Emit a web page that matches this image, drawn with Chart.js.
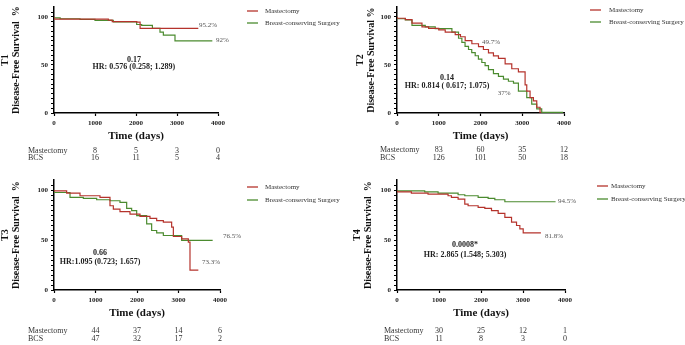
<!DOCTYPE html>
<html>
<head>
<meta charset="utf-8">
<script src="https://cdn.jsdelivr.net/npm/chart.js@4.4.1/dist/chart.umd.min.js"></script>
<style>
  body { margin: 0; background: #fff; }
  #wrap { position: relative; width: 685px; height: 345px; overflow: hidden; }
  canvas { position: absolute; }
</style>
</head>
<body>
<div id="wrap">
  <canvas id="c1" width="345" height="172" style="left:0;top:0"></canvas>
  <canvas id="c2" width="340" height="172" style="left:345px;top:0"></canvas>
  <canvas id="c3" width="345" height="172" style="left:0;top:173px"></canvas>
  <canvas id="c4" width="340" height="172" style="left:345px;top:173px"></canvas>
</div>
<script>
// Kaplan-Meier curves (days, survival %)

// T1
var t1MastDays = [0, 1325, 1420, 2016, 2100, 2830, 3520];
var t1MastSurv = [100, 97.5, 96.5, 95, 94.5, 88, 88];
var t1BcsDays = [0, 150, 634, 1000, 1447, 2016, 2138, 2400, 2585, 2667, 2951, 3195, 3862];
var t1BcsSurv = [100, 99, 98, 97.3, 96.3, 94.7, 92, 91, 88, 84, 81, 75, 75];

// T2
var t2MastDays = [0, 200, 359, 598, 757, 1000, 1155, 1394, 1520, 1633, 1793, 1952, 2070, 2191, 2310, 2430, 2590, 2749, 2908, 3068, 3108, 3187, 3267, 3347, 3426, 3466];
var t2MastSurv = [100, 98.5, 97, 93.5, 89.5, 88, 86.5, 84, 81.5, 79.3, 75.3, 72, 69, 66, 62.5, 59.3, 56.7, 51, 46, 42.7, 29.3, 22.7, 16, 12.7, 6, 0];
var t2BcsDays = [0, 200, 359, 677, 916, 1315, 1474, 1554, 1630, 1713, 1790, 1873, 1950, 2032, 2110, 2191, 2310, 2430, 2550, 2669, 2790, 2908, 3108, 3227, 3347, 3466, 3530, 3980];
var t2BcsSurv = [100, 98, 96.7, 91, 89.5, 87.7, 84, 77.7, 73.5, 69.3, 66, 62.7, 59.5, 56, 52.5, 49.3, 45, 41, 38, 35.3, 33, 31, 22.7, 16, 9.3, 4.3, 0.7, 0.7];

// T3
var t3MastDays = [0, 305, 627, 1108, 1349, 1430, 1590, 1831, 2072, 2313, 2474, 2635, 2835, 2876, 3076, 3237, 3277, 3317, 3478];
var t3MastSurv = [100, 99.3, 97, 94.4, 92.7, 84.4, 81, 78.5, 76, 73.8, 71.8, 69.5, 67.9, 63, 53.6, 51.3, 48, 20, 20];
var t3BcsDays = [0, 386, 707, 1028, 1349, 1590, 1751, 1871, 1992, 2233, 2353, 2474, 2635, 3076, 3277, 3823];
var t3BcsSurv = [100, 97.7, 92.7, 91.7, 90.4, 89.4, 87.7, 81.8, 79.5, 74.5, 66.2, 59.6, 57.3, 54.6, 49.7, 49.7];

// T4
var t4MastDays = [0, 342, 739, 1216, 1296, 1455, 1614, 1693, 1932, 2091, 2250, 2409, 2568, 2727, 2846, 2925, 3005, 3045, 3426];
var t4MastSurv = [100, 98.3, 97, 96, 94.4, 92.7, 91, 86, 84.4, 82.8, 81.8, 79.5, 76.8, 72.8, 67.9, 64.6, 61.3, 57.3, 57.3];
var t4BcsDays = [0, 660, 978, 1455, 1614, 1932, 2170, 2329, 2568, 2607, 3776];
var t4BcsSurv = [100, 99.3, 98.3, 97, 95.4, 94.4, 92.7, 91.7, 90.4, 88.4, 88.4];

// numbers at risk
var riskDays = [1000, 2000, 3000, 4000];
var t1RiskMast = [8, 5, 3, 0];
var t1RiskBcs = [16, 11, 5, 4];
var t2RiskMast = [83, 60, 35, 12];
var t2RiskBcs = [126, 101, 50, 18];
var t3RiskMast = [44, 37, 14, 6];
var t3RiskBcs = [47, 32, 17, 2];
var t4RiskMast = [30, 25, 12, 1];
var t4RiskBcs = [11, 8, 3, 0];

var xTicks = [0, 1000, 2000, 3000, 4000];
var yTickLabels = [0, 50, 100];
var seriesNames = ["Mastectomy", "Breast-conserving Surgery"];
var riskNames = ["Mastectomy", "BCS"];

var RED = "#b5332c";
var GREEN = "#4b8b2f";
var SERIF = "'Liberation Serif', 'Times New Roman', serif";

function pts(days, surv) {
  var out = [];
  for (let i = 0; i < days.length; i++) out.push({ x: days[i], y: surv[i] });
  return out;
}

// panel layout (canvas-relative chart area and extras)
var panels = [
  {
    id: "c1", w: 345, h: 172, area: { l: 54, t: 2, r: 218, b: 113 },
    title: ["T1", "Disease-Free Survival  %"], titlePad: 0,
    mast: pts(t1MastDays, t1MastSurv), bcs: pts(t1BcsDays, t1BcsSurv),
    riskM: t1RiskMast, riskB: t1RiskBcs, riskX: 28, riskY: [151, 158],
    legX: 247, legText: 18, legY: [11, 23],
    p: "0.17", hr: "HR: 0.576 (0.258; 1.289)", pAt: [1950, 55.5], hrAt: [1950, 47.5],
    labels: [["95.2%", 3536, 91.2], ["92%", 3951, 75.3]]
  },
  {
    id: "c2", w: 340, h: 172, area: { l: 52, t: 3, r: 219, b: 113 },
    title: ["T2", "Disease-Free Survival %"], titlePad: 9.5,
    mast: pts(t2MastDays, t2MastSurv), bcs: pts(t2BcsDays, t2BcsSurv),
    riskM: t2RiskMast, riskB: t2RiskBcs, riskX: 35, riskY: [150, 158],
    legX: 245, legText: 19, legY: [10, 22],
    p: "0.14", hr: "HR: 0.814 ( 0.617; 1.075)", pAt: [1200, 36], hrAt: [1200, 28],
    labels: [["49.7%", 2033, 73.7], ["37%", 2416, 20.6]]
  },
  {
    id: "c3", w: 345, h: 172, area: { l: 54, t: 6, r: 220, b: 117 },
    title: ["T3", "Disease-Free Survival  %"], titlePad: 0,
    mast: pts(t3MastDays, t3MastSurv), bcs: pts(t3BcsDays, t3BcsSurv),
    riskM: t3RiskMast, riskB: t3RiskBcs, riskX: 28, riskY: [158, 166],
    legX: 247, legText: 18, legY: [14, 27],
    p: "0.66", hr: "HR:1.095 (0.723; 1.657)", pAt: [1110, 36.7], hrAt: [1110, 27.8],
    labels: [["76.5%", 4072, 53.6], ["73.3%", 3566, 27.8]]
  },
  {
    id: "c4", w: 340, h: 172, area: { l: 52, t: 6, r: 220, b: 117 },
    title: ["T4", "Disease-Free Survival  %"], titlePad: 6.5,
    mast: pts(t4MastDays, t4MastSurv), bcs: pts(t4BcsDays, t4BcsSurv),
    riskM: t4RiskMast, riskB: t4RiskBcs, riskX: 39, riskY: [158, 166],
    legX: 252, legText: 14, legY: [13, 26],
    p: "0.0008*", hr: "HR: 2.865 (1.548; 5.303)", pAt: [1620, 44.7], hrAt: [1620, 34.8],
    labels: [["94.5%", 3833, 89.4], ["81.8%", 3524, 53.6]]
  }
];

function makePlugin(pn) {
  return {
    id: "extras",
    afterDraw: function (chart) {
      var ctx = chart.ctx;
      var xs = chart.scales.x;
      var ys = chart.scales.y;
      ctx.save();

      // p-value and hazard ratio
      ctx.fillStyle = "#222";
      ctx.textAlign = "center";
      ctx.textBaseline = "middle";
      ctx.font = "bold 8px " + SERIF;
      ctx.fillText(pn.p, xs.getPixelForValue(pn.pAt[0]), ys.getPixelForValue(pn.pAt[1]));
      ctx.fillText(pn.hr, xs.getPixelForValue(pn.hrAt[0]), ys.getPixelForValue(pn.hrAt[1]));

      // end-of-curve percentages
      ctx.font = "7px " + SERIF;
      ctx.fillStyle = "#555";
      ctx.textAlign = "left";
      for (let i = 0; i < pn.labels.length; i++) {
        let lb = pn.labels[i];
        ctx.fillText(lb[0], xs.getPixelForValue(lb[1]), ys.getPixelForValue(lb[2]));
      }

      // legend
      var cols = [RED, GREEN];
      ctx.font = "7px " + SERIF;
      ctx.fillStyle = "#333";
      for (let i = 0; i < 2; i++) {
        ctx.strokeStyle = cols[i];
        ctx.lineWidth = 1.3;
        ctx.beginPath();
        ctx.moveTo(pn.legX, pn.legY[i]);
        ctx.lineTo(pn.legX + 11, pn.legY[i]);
        ctx.stroke();
        ctx.fillText(seriesNames[i], pn.legX + pn.legText, pn.legY[i]);
      }

      // numbers at risk
      ctx.font = "8px " + SERIF;
      ctx.fillStyle = "#333";
      ctx.textAlign = "left";
      ctx.fillText(riskNames[0], pn.riskX, pn.riskY[0]);
      ctx.fillText(riskNames[1], pn.riskX, pn.riskY[1]);
      ctx.textAlign = "center";
      for (let i = 0; i < riskDays.length; i++) {
        let px = xs.getPixelForValue(riskDays[i]);
        ctx.fillText(String(pn.riskM[i]), px, pn.riskY[0]);
        ctx.fillText(String(pn.riskB[i]), px, pn.riskY[1]);
      }
      ctx.restore();
    }
  };
}

function drawPanel(pn) {
  var a = pn.area;
  var canvas = document.getElementById(pn.id);
  new Chart(canvas, {
    type: "line",
    data: {
      datasets: [
        { label: seriesNames[0], data: pn.mast, borderColor: RED, borderWidth: 1.2, stepped: "after", pointRadius: 0, fill: false },
        { label: seriesNames[1], data: pn.bcs, borderColor: GREEN, borderWidth: 1.2, stepped: "after", pointRadius: 0, fill: false }
      ]
    },
    options: {
      responsive: false,
      animation: false,
      layout: { padding: { left: 0, top: a.t, right: pn.w - a.r, bottom: pn.h - a.b - 30 } },
      plugins: { legend: { display: false }, tooltip: { enabled: false } },
      scales: {
        x: {
          type: "linear", min: 0, max: 4000,
          afterBuildTicks: function (s) { s.ticks = xTicks.map(v => ({ value: v })); },
          afterFit: function (s) { s.height = 30; },
          grid: { drawOnChartArea: false, tickLength: 3, tickColor: "#000", tickWidth: 1.2 },
          border: { color: "#000", width: 1.5 },
          ticks: {
            color: "#222", padding: 3, maxRotation: 0, autoSkip: false,
            font: { family: SERIF, size: 7, weight: "bold" },
            callback: function (v) { return String(v); }
          },
          title: { display: true, text: "Time (days)", color: "#111", padding: 0, font: { family: SERIF, size: 11, weight: "bold" } }
        },
        y: {
          min: 0, max: 110,
          afterBuildTicks: function (s) {
            var t = [];
            for (let v = 0; v <= 105; v += 5) t.push({ value: v });
            s.ticks = t;
          },
          afterFit: function (s) { s.width = a.l; },
          grid: { drawOnChartArea: false, tickLength: 3, tickColor: "#000", tickWidth: 1.2 },
          border: { color: "#000", width: 1.5 },
          ticks: {
            color: "#222", padding: 3, autoSkip: false,
            font: { family: SERIF, size: 7, weight: "bold" },
            callback: function (v) { return yTickLabels.indexOf(v) >= 0 ? String(v) : ""; }
          },
          title: {
            display: true, text: pn.title, color: "#111",
            padding: { top: pn.titlePad, bottom: 0 },
            font: { family: SERIF, size: 10, weight: "bold", lineHeight: 1.1 }
          }
        }
      }
    },
    plugins: [makePlugin(pn)]
  });
}

for (let i = 0; i < panels.length; i++) {
  drawPanel(panels[i]);
}
</script>
</body>
</html>
